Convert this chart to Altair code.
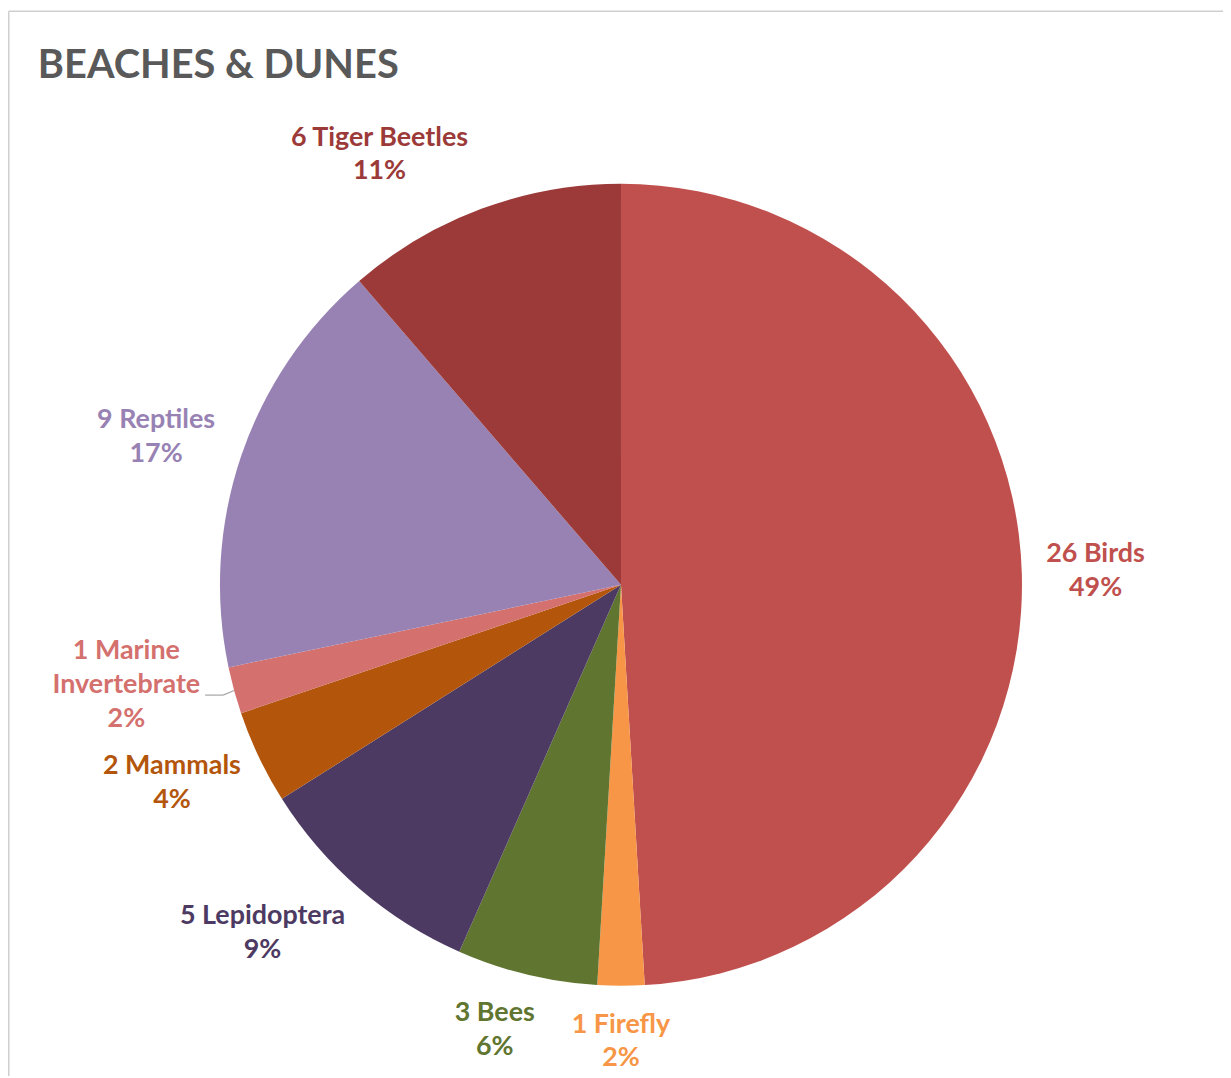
import altair as alt
import pandas as pd

# ---- data ----
categories = ["Birds", "Firefly", "Bees", "Lepidoptera", "Mammals",
              "Marine Invertebrate", "Reptiles", "Tiger Beetles"]
counts = [26, 1, 3, 5, 2, 1, 9, 6]
slice_colors = ["#C0504D", "#F79646", "#5F7530", "#4D3A62", "#B3560C",
                "#D4706D", "#9882B4", "#9B3A38"]
label_colors = ["#B5525A", "#F0954F", "#5F7532", "#4A3A60", "#B5600F",
                "#CF7B80", "#9A86B8", "#94393C"]
title_text = "BEACHES & DUNES"

total = sum(counts)


def text_units(s):
    # rough width of a label line in "average character" units
    return len(s) + 0.5 * sum(ch in "MmWw" for ch in s)


labels, maxlen, nlines = [], [], []
for c, v in zip(categories, counts):
    pct = f"{round(v / total * 100)}%"
    first = f"{v} {c}"
    if len(first) > 16:
        head, tail = c.split(" ", 1)
        lines = [f"{v} {head}", tail, pct]
    else:
        lines = [first, pct]
    labels.append("\n".join(lines))
    maxlen.append(max(text_units(s) for s in lines))
    nlines.append(len(lines))

df = pd.DataFrame({
    "category": categories,
    "value": counts,
    "order": list(range(len(categories))),
    "label": labels,
    "maxlen": maxlen,
    "nlines": nlines,
})

# ---- layout constants ----
R = 403          # pie radius
CX, CY = 614, 575
G = 24           # gap between pie edge and label box
FS = 27          # label font size
LH = 34          # label line height
PAD = 13         # spacing when a label is pushed away from a neighbour

color_scale = alt.Scale(domain=categories, range=slice_colors)
label_scale = alt.Scale(domain=categories, range=label_colors)

pie = alt.Chart(df).mark_arc(outerRadius=R).encode(
    theta=alt.Theta("value:Q", stack=True),
    order=alt.Order("order:Q"),
    color=alt.Color("category:N", scale=color_scale, legend=None),
    x=alt.value(CX),
    y=alt.value(CY),
)

lab = alt.Chart(df).transform_window(
    cum="sum(value)", sort=[alt.SortField("order")], frame=[None, 0]
).transform_joinaggregate(
    total="sum(value)"
).transform_calculate(
    a="(datum.cum - datum.value / 2) / datum.total * 2 * PI",
    hw=f"datum.maxlen * {FS * 0.232}",
    hh=f"datum.nlines * {LH / 2}",
).transform_calculate(
    s="sin(datum.a)",
    c="cos(datum.a)",
).transform_calculate(
    cx0=f"{CX} + {R + G} * datum.s + datum.hw * clamp(3 * datum.s, -1, 1)",
    cy0=f"{CY} - {R + G - 2} * datum.c - datum.hh * clamp(1.1 * datum.c, -1, 1)",
).transform_window(
    window=[
        alt.WindowFieldDef(op="lag", field="cy0", **{"as": "pcy"}),
        alt.WindowFieldDef(op="lag", field="cx0", **{"as": "pcx"}),
        alt.WindowFieldDef(op="lag", field="hh", **{"as": "phh"}),
        alt.WindowFieldDef(op="lag", field="hw", **{"as": "phw"}),
        alt.WindowFieldDef(op="lag", field="s", **{"as": "ps"}),
    ],
    sort=[alt.SortField("order")],
).transform_calculate(
    moved=(
        "datum.pcy != null && datum.s < 0 && datum.ps < 0 && "
        f"(datum.cy0 + datum.hh + {PAD} > datum.pcy - datum.phh) && "
        "(abs(datum.cx0 - datum.pcx) < datum.hw + datum.phw)"
    )
).transform_calculate(
    cy=f"datum.moved ? datum.pcy - datum.phh - datum.hh - {PAD} : datum.cy0",
    cx="datum.moved ? datum.cx0 - 10 : datum.cx0",
).transform_calculate(
    ty=f"datum.cy - (datum.nlines - 1) * {LH / 2}",
    lx1="datum.cx + datum.hw + 4",
    lx1b="datum.cx + datum.hw + 22",
    ly1="datum.cy + 10",
    lx2=f"{CX} + {R} * datum.s",
    ly2=f"{CY} - {R} * datum.c",
)

text = lab.mark_text(
    font="Lato", fontSize=FS, fontWeight="bold", lineBreak="\n",
    lineHeight=LH, align="center", baseline="middle"
).encode(
    x=alt.X("cx:Q", scale=None),
    y=alt.Y("ty:Q", scale=None),
    text="label:N",
    color=alt.Color("category:N", scale=label_scale, legend=None),
)

leader_a = lab.transform_filter("datum.moved").mark_rule(
    color="#a6a6a6", strokeWidth=1.2
).encode(
    x=alt.X("lx1:Q", scale=None),
    y=alt.Y("ly1:Q", scale=None),
    x2="lx1b:Q",
    y2="ly1:Q",
)
leader_b = lab.transform_filter("datum.moved").mark_rule(
    color="#a6a6a6", strokeWidth=1.2
).encode(
    x=alt.X("lx1b:Q", scale=None),
    y=alt.Y("ly1:Q", scale=None),
    x2="lx2:Q",
    y2="ly2:Q",
)

border_top = alt.Chart(pd.DataFrame({"k": [0]})).mark_rule(
    color="#cfcfcf", strokeWidth=1.5
).encode(x=alt.value(-1.25), x2=alt.value(1230), y=alt.value(-1.25))
border_left = alt.Chart(pd.DataFrame({"k": [0]})).mark_rule(
    color="#cfcfcf", strokeWidth=1.5
).encode(x=alt.value(-1.25), y=alt.value(-1.25), y2=alt.value(1080))

chart = alt.layer(pie, text, leader_a, leader_b, border_top, border_left).properties(
    width=1219,
    height=1066,
    padding={"left": 2, "top": 2, "right": 0, "bottom": 0},
    autosize=alt.AutoSizeParams(type="none"),
    background="white",
    title=alt.TitleParams(
        title_text, anchor="start", frame="group", font="Lato",
        fontSize=40, fontWeight="bold", color="#595959",
        baseline="alphabetic", offset=0, dx=28, dy=108,
    ),
).configure_view(strokeWidth=0, stroke="transparent")

chart.save("out.html", embed_options={"renderer": "svg", "actions": False})
